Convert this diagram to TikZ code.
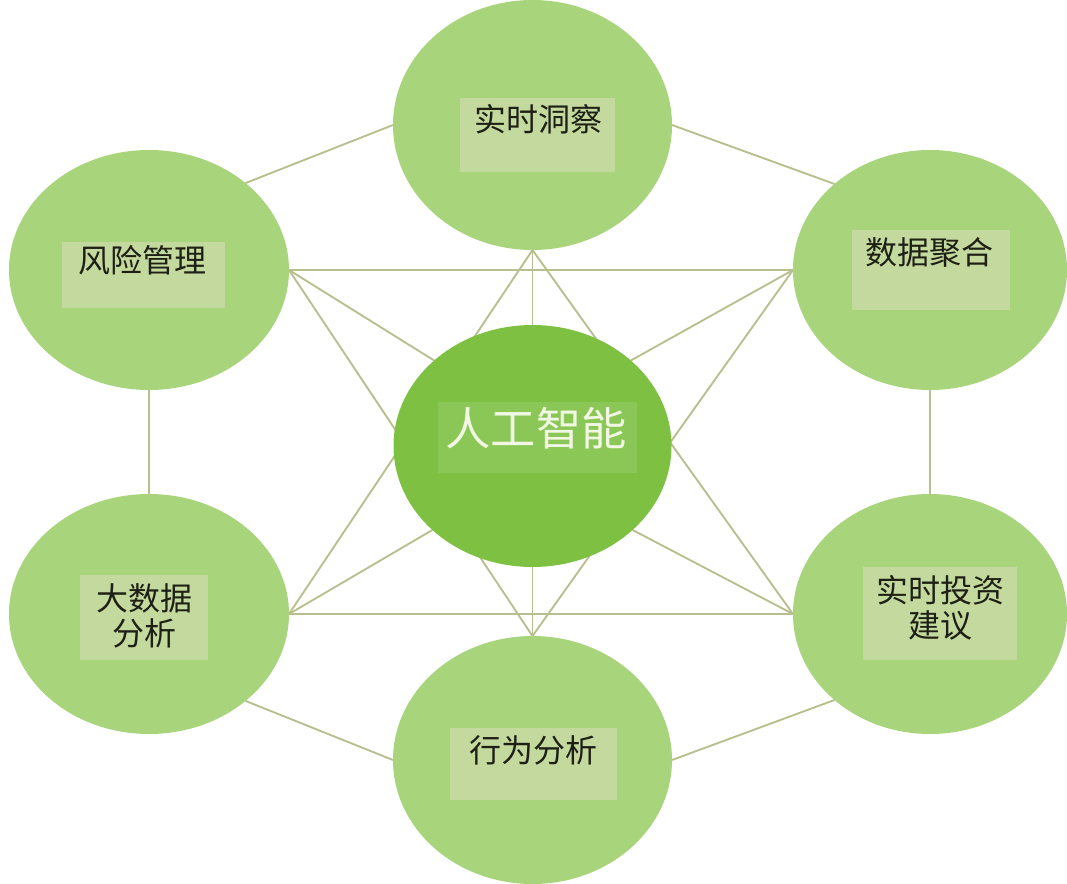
\documentclass[tikz,border=0pt]{standalone}
\usepackage{fontspec}
\newfontfamily\cjk{Noto Sans CJK SC}
\usetikzlibrary{shapes.geometric}
\pgfdeclarelayer{background}
\pgfsetlayers{background,main}
\definecolor{outerg}{RGB}{168,212,124}
\definecolor{centerg}{RGB}{126,193,66}
\definecolor{boxg}{RGB}{196,217,157}
\definecolor{cboxg}{RGB}{138,199,86}
\definecolor{linkg}{RGB}{184,191,142}
\definecolor{txtd}{RGB}{30,32,22}
\definecolor{txtw}{RGB}{242,247,228}
\begin{document}
\begin{tikzpicture}[x=0.75pt,y=-0.75pt,
  outer/.style={ellipse, fill=outerg, inner sep=0pt, outer sep=0pt},
  core/.style={ellipse, fill=centerg, inner sep=0pt, outer sep=0pt},
  lbox/.style={rectangle, fill=boxg, inner sep=0pt, outer sep=0pt},
  cbox/.style={rectangle, fill=cboxg, inner sep=0pt, outer sep=0pt},
  ltext/.style={inner sep=0pt, text=txtd, font=\cjk\fontsize{24}{26}\selectfont, align=center},
  ctext/.style={inner sep=0pt, text=txtw, font=\cjk\fontsize{34}{38}\selectfont},
  link/.style={draw=linkg, line width=1.4pt}
]
\useasboundingbox (0,0) rectangle (1067,884);
% outer nodes
\node[outer, minimum width=209.25pt, minimum height=187.5pt] (top) at (532.5,125) {};
\node[outer, minimum width=210pt, minimum height=180pt] (tl) at (149,270) {};
\node[outer, minimum width=205.5pt, minimum height=180pt] (tr) at (930,270) {};
\node[outer, minimum width=210pt, minimum height=180pt] (bl) at (149,614) {};
\node[outer, minimum width=205.5pt, minimum height=180pt] (br) at (930,614) {};
\node[outer, minimum width=209.25pt, minimum height=186pt] (bot) at (532.5,760) {};
% center
\node[core, minimum width=208.5pt, minimum height=181.5pt] (c) at (532.5,446) {};
% connectors
\begin{pgfonlayer}{background}
\draw[link] (tl.42) -- (top.west);
\draw[link] (top.east) -- (tr.138);
\draw[link] (tl.south) -- (bl.north);
\draw[link] (tr.south) -- (br.north);
\draw[link] (bl.-42) -- (bot.west);
\draw[link] (bot.east) -- (br.222);
\draw[link] (tl.east) -- (tr.west);
\draw[link] (bl.east) -- (br.west);
\draw[link] (top.south) -- (bl.east);
\draw[link] (top.south) -- (br.west);
\draw[link] (tl.east) -- (bot.north);
\draw[link] (tr.west) -- (bot.north);
\draw[link] (tl.east) -- (c.139);
\draw[link] (tr.west) -- (c.41);
\draw[link] (bl.east) -- (c.220);
\draw[link] (br.west) -- (c.320);
\draw[link] (top.south) -- (c.north);
\draw[link] (bot.north) -- (c.south);
\end{pgfonlayer}
% label boxes
\node[lbox, minimum width=116.25pt, minimum height=55.5pt] (btop) at (537.5,135) {};
\node[lbox, minimum width=122.25pt, minimum height=49.5pt] (btl) at (143.5,275) {};
\node[lbox, minimum width=118.5pt, minimum height=60pt] (btr) at (931,270) {};
\node[lbox, minimum width=96pt, minimum height=63.75pt] (bbl) at (144,617.5) {};
\node[lbox, minimum width=115.5pt, minimum height=69.75pt] (bbr) at (940,613.5) {};
\node[lbox, minimum width=125.25pt, minimum height=54pt] (bbot) at (533.5,764) {};
\node[cbox, minimum width=149.25pt, minimum height=53.25pt] (bc) at (537.5,437.5) {};
% texts
\node[ltext] (ttop) at (538,119) {实时洞察};
\node[ltext] (ttl) at (142,260) {风险管理};
\node[ltext] (ttr) at (929,252) {数据聚合};
\node[ltext] (tbl) at (144,616) {大数据\\分析};
\node[ltext] (tbr) at (940,608) {实时投资\\建议};
\node[ltext] (tbot) at (533,750) {行为分析};
\node[ctext] (tc) at (536,428) {人工智能};
\end{tikzpicture}
\end{document}
